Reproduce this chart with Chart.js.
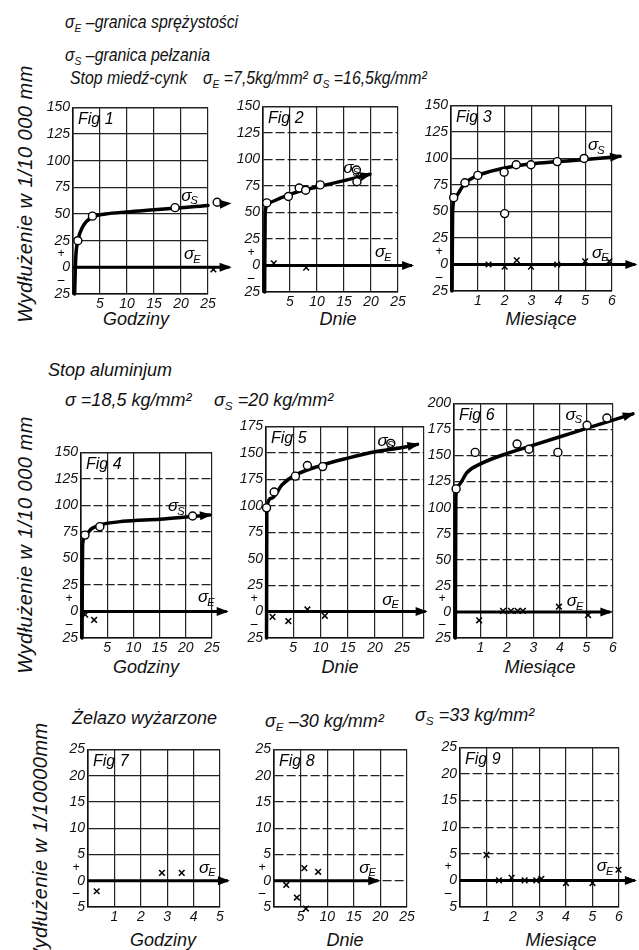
<!DOCTYPE html>
<html>
<head>
<meta charset="utf-8">
<script src="https://cdn.jsdelivr.net/npm/chart.js@4.4.1/dist/chart.umd.min.js"></script>
<style>
body { margin: 0; background: #fff; width: 639px; height: 950px; position: relative; overflow: hidden;
  font-family: 'Liberation Sans', Arial, sans-serif; font-style: italic; color: #111; }
.t { position: absolute; white-space: nowrap; font-size: 18px; line-height: 20px; }
.n { transform: scaleX(0.88); transform-origin: left center; }
.c { position: absolute; white-space: nowrap; font-size: 18px; transform: translate(-50%, -50%); }
.yt { position: absolute; white-space: nowrap; font-size: 20px; letter-spacing: 0.5px; transform: translate(-50%, -50%) rotate(-90deg); }
sub { font-size: 0.65em; vertical-align: -0.35em; line-height: 0; }
canvas { position: absolute; }
</style>
</head>
<body>
<div class="t n" style="left:65px;top:12px">σ<sub>E</sub> –granica sprężystości</div>
<div class="t n" style="left:65px;top:45px">σ<sub>S</sub> –granica pełzania</div>
<div class="t n" style="left:70px;top:68px">Stop miedź-cynk</div>
<div class="t n" style="left:203px;top:68px">σ<sub>E</sub> =7,5kg/mm²</div>
<div class="t n" style="left:313px;top:68px">σ<sub>S</sub> =16,5kg/mm²</div>

<div class="t" style="left:48px;top:360px">Stop aluminjum</div>
<div class="t" style="left:65px;top:390px">σ =18,5 kg/mm²</div>
<div class="t" style="left:214px;top:390px">σ<sub>S</sub> =20 kg/mm²</div>

<div class="t" style="left:72px;top:708px">Żelazo wyżarzone</div>
<div class="t" style="left:265px;top:711px">σ<sub>E</sub> –30 kg/mm²</div>
<div class="t" style="left:415px;top:705px">σ<sub>S</sub> =33 kg/mm²</div>

<div class="yt" style="left:25px;top:194px">Wydłużenie w 1/10 000 mm</div>
<div class="yt" style="left:25px;top:545px">Wydłużenie w 1/10 000 mm</div>
<div class="yt" style="left:40px;top:845px">Wydłużenie w 1/10000mm</div>

<div class="c" style="left:136px;top:319px">Godziny</div>
<div class="c" style="left:338px;top:319px">Dnie</div>
<div class="c" style="left:541px;top:319px">Miesiące</div>
<div class="c" style="left:146px;top:667px">Godziny</div>
<div class="c" style="left:340px;top:667px">Dnie</div>
<div class="c" style="left:540px;top:667px">Miesiące</div>
<div class="c" style="left:163px;top:940px">Godziny</div>
<div class="c" style="left:345px;top:940px">Dnie</div>
<div class="c" style="left:561px;top:940px">Miesiące</div>

<canvas id="f1"></canvas><canvas id="f2"></canvas><canvas id="f3"></canvas>
<canvas id="f4"></canvas><canvas id="f5"></canvas><canvas id="f6"></canvas>
<canvas id="f7"></canvas><canvas id="f8"></canvas><canvas id="f9"></canvas>

<script>
const FONT = "'Liberation Sans', Arial, sans-serif";

// podziałki osi
const yTicksBig = [-25, 0, 25, 50, 75, 100, 125, 150];
const yLabelsBig = ['25', '0', '25', '50', '75', '100', '125', '150'];
const yTicksFig5 = [-25, 0, 25, 50, 75, 100, 125, 150, 175];
const yLabelsFig5 = ['25', '0', '25', '50', '75', '100', '175', '150', '175'];
const yTicksFig6 = [-25, 0, 25, 50, 75, 100, 125, 150, 175, 200];
const yLabelsFig6 = ['25', '0', '25', '50', '75', '100', '125', '150', '175', '200'];
const yTicksSmall = [-5, 0, 5, 10, 15, 20, 25];
const yLabelsSmall = ['5', '0', '5', '10', '15', '20', '25'];
const xTicks25 = [0, 5, 10, 15, 20, 25];
const xLabels25 = ['', '5', '10', '15', '20', '25'];
const xTicksFig5 = [0, 5, 10, 15, 20, 25, 29];
const xLabelsFig5 = ['', '5', '10', '15', '20', '25', ''];
const xTicksMonths = [0, 1, 2, 3, 4, 5, 6];
const xLabelsMonths = ['', '1', '2', '3', '4', '5', '6'];
const xTicksFig7 = [0, 1, 2, 3, 4, 5];
const xLabelsFig7 = ['', '1', '2', '3', '4', '5'];

// Stop miedź-cynk
const fig1Creep = [[0.3, -25], [0.5, 8], [0.9, 25], [1.8, 38], [3.5, 47], [6, 50], [10, 52], [15, 54], [20, 56], [25, 58], [29, 60]];
const fig1Circles = [[0.9, 25], [3.6, 48], [18.9, 56], [26.7, 61]];
const fig1Crosses = [[26, -2]];
const fig1Elastic = [[0, 0], [29, 0]];

const fig2Creep = [[0.3, -25], [0.4, 50], [1, 59], [3, 63], [5, 67], [7.5, 71], [10, 74], [15, 80], [19.8, 86]];
const fig2Circles = [[0.7, 59], [4.7, 65], [6.7, 73], [7.9, 71], [10.6, 76], [17.4, 79], [17.3, 90]];
const fig2Crosses = [[2, 2], [8, -2]];
const fig2Elastic = [[0, 0], [27.6, 0]];

const fig3Creep = [[0.04, -25], [0.06, 50], [0.15, 63], [0.5, 76], [1, 84], [1.5, 88], [2, 91], [3, 95], [4, 97], [5, 99], [6.3, 102]];
const fig3Circles = [[0.1, 63], [0.52, 77], [1.0, 84], [1.98, 87], [2.0, 48], [2.43, 94], [2.98, 94], [3.96, 97], [4.96, 100]];
const fig3Crosses = [[1.4, 0], [2.0, -2], [2.45, 4], [2.98, -2], [3.96, 0], [5.0, 3], [5.9, 3]];
const fig3Elastic = [[0, 0], [6.87, 0]];

// Stop aluminjum
const fig4Creep = [[0.2, -25], [0.3, 62], [0.8, 72], [2, 78], [4, 82], [8, 85], [15, 87], [20, 89], [24.6, 91]];
const fig4Circles = [[0.76, 72], [3.6, 80], [21.3, 90]];
const fig4Crosses = [[0.8, -3], [2.5, -8]];
const fig4Elastic = [[0, 0], [27.8, 0]];

const fig5Creep = [[0.1, -25], [0.15, 98], [1, 107], [3, 120], [5, 128], [10, 138], [15, 145], [20, 151], [25, 155], [27.8, 158]];
const fig5Circles = [[0.1, 98], [1.5, 113], [5.4, 128], [7.6, 138], [10.4, 137], [22.9, 159]];
const fig5Crosses = [[1.2, -5], [4.1, -9], [7.6, 2], [10.8, -4]];
const fig5Elastic = [[0, 0], [29.3, 0]];

const fig6Creep = [[0.05, -25], [0.07, 110], [0.15, 121], [0.5, 134], [1, 142], [2, 152], [3, 160], [4, 168], [5, 176], [6.75, 190]];
const fig6Circles = [[0.08, 118], [0.8, 153], [2.38, 161], [2.83, 156], [3.92, 153], [5.02, 179], [5.77, 186]];
const fig6Crosses = [[0.95, -8], [1.85, 1], [2.15, 1], [2.4, 1], [2.6, 1], [3.96, 5], [5.06, -3]];
const fig6Elastic = [[0, 0], [5.9, 0]];

// Żelazo wyżarzone
const fig7Crosses = [[0.33, -2], [2.8, 1.5], [3.55, 1.5]];
const fig7Elastic = [[0, 0], [5.3, 0]];
const fig8Crosses = [[5.7, 2.4], [8.3, 1.7], [2.3, -0.8], [4.3, -3.2], [6, -5.3]];
const fig8Elastic = [[0, 0], [19.6, 0]];
const fig9Crosses = [[1.0, 4.8], [1.47, 0], [1.95, 0.5], [2.44, 0], [2.88, 0], [3.07, 0.3], [4.0, -0.5], [5.0, -0.5], [5.98, 2]];
const fig9Elastic = [[0, 0], [6.6, 0]];

const figs = [
  { id: 'f1', name: 'Fig 1', L: 73, T: 106, R: 208, B: 294, xT: xTicks25, xL: xLabels25, yT: yTicksBig, yL: yLabelsBig,
    creep: fig1Creep, circles: fig1Circles, crosses: fig1Crosses, elastic: fig1Elastic, sPos: [21, 67], ePos: [21.5, 12], dashed: false, sign: 12.5 },
  { id: 'f2', name: 'Fig 2', L: 263, T: 105, R: 398, B: 292, xT: xTicks25, xL: xLabels25, yT: yTicksBig, yL: yLabelsBig,
    creep: fig2Creep, circles: fig2Circles, crosses: fig2Crosses, elastic: fig2Elastic, sPos: [15.8, 92], ePos: [21.7, 12], dashed: true, sign: 12.5 },
  { id: 'f3', name: 'Fig 3', L: 451, T: 104, R: 612, B: 291, xT: xTicksMonths, xL: xLabelsMonths, yT: yTicksBig, yL: yLabelsBig,
    creep: fig3Creep, circles: fig3Circles, crosses: fig3Crosses, elastic: fig3Elastic, sPos: [5.3, 112], ePos: [5.45, 11], dashed: false, sign: 12.5 },
  { id: 'f4', name: 'Fig 4', L: 81, T: 451, R: 212, B: 638, xT: xTicks25, xL: xLabels25, yT: yTicksBig, yL: yLabelsBig,
    creep: fig4Creep, circles: fig4Circles, crosses: fig4Crosses, elastic: fig4Elastic, sPos: [17.6, 99], ePos: [23.3, 13], dashed: true, sign: 12.5 },
  { id: 'f5', name: 'Fig 5', L: 266, T: 425, R: 424, B: 638, xT: xTicksFig5, xL: xLabelsFig5, yT: yTicksFig5, yL: yLabelsFig5,
    creep: fig5Creep, circles: fig5Circles, crosses: fig5Crosses, elastic: fig5Elastic, sPos: [21.4, 161], ePos: [22.3, 11], dashed: true, sign: 12.5 },
  { id: 'f6', name: 'Fig 6', L: 454, T: 402, R: 613, B: 638, xT: xTicksMonths, xL: xLabelsMonths, yT: yTicksFig6, yL: yLabelsFig6,
    creep: fig6Creep, circles: fig6Circles, crosses: fig6Crosses, elastic: fig6Elastic, sPos: [4.4, 189], ePos: [4.45, 10], dashed: true, sign: 12.5 },
  { id: 'f7', name: 'Fig 7', L: 88, T: 748, R: 220, B: 907, xT: xTicksFig7, xL: xLabelsFig7, yT: yTicksSmall, yL: yLabelsSmall,
    crosses: fig7Crosses, elastic: fig7Elastic, ePos: [4.4, 2.4], dashed: false, sign: 2.5 },
  { id: 'f8', name: 'Fig 8', L: 274, T: 748, R: 407, B: 907, xT: xTicks25, xL: xLabels25, yT: yTicksSmall, yL: yLabelsSmall,
    crosses: fig8Crosses, elastic: fig8Elastic, ePos: [17, 2.4], dashed: true, sign: 2.5 },
  { id: 'f9', name: 'Fig 9', L: 460, T: 746, R: 619, B: 907, xT: xTicksMonths, xL: xLabelsMonths, yT: yTicksSmall, yL: yLabelsSmall,
    crosses: fig9Crosses, elastic: fig9Elastic, ePos: [5.35, 2.6], dashed: true, sign: 2.5 }
];

const PL = 34, PT = 10, PR = 30, PB = 24;

Chart.defaults.font.family = FONT;
Chart.defaults.font.style = 'italic';
Chart.defaults.color = '#111';

function sigma(ctx, x, y, sub) {
  ctx.font = 'italic 17px ' + FONT;
  ctx.textAlign = 'center';
  ctx.textBaseline = 'middle';
  ctx.fillText('σ', x, y);
  const w = ctx.measureText('σ').width;
  ctx.font = 'italic 11px ' + FONT;
  ctx.textAlign = 'left';
  ctx.fillText(sub, x + w / 2 - 1, y + 5);
}

// strzałki, napisy σ, "Fig", znaki +/−
const sketch = {
  id: 'sketch',
  beforeDatasetsDraw(chart) {
    const a = chart.chartArea;
    chart.$area = a;
    chart.chartArea = { left: a.left - 20, top: a.top - 20, right: a.right + 40, bottom: a.bottom + 20,
      width: a.width + 60, height: a.height + 40 };
  },
  afterDatasetsDraw(chart, args, o) {
    chart.chartArea = chart.$area;
    const ctx = chart.ctx, a = chart.chartArea;
    const xs = chart.scales.x, ys = chart.scales.y;
    ctx.save();
    ctx.fillStyle = '#000';
    chart.data.datasets.forEach((ds, i) => {
      if (!ds.arrow) return;
      const el = chart.getDatasetMeta(i).data;
      const p = el[el.length - 1], q = el[el.length - 2];
      let fx = q.x, fy = q.y;
      if (p.cp1x !== undefined && Math.hypot(p.x - p.cp1x, p.y - p.cp1y) > 1) { fx = p.cp1x; fy = p.cp1y; }
      const ang = Math.atan2(p.y - fy, p.x - fx);
      const c = Math.cos(ang), s = Math.sin(ang);
      const tx = p.x + 2 * c, ty = p.y + 2 * s;
      const bx = p.x - 10 * c, by = p.y - 10 * s;
      ctx.beginPath();
      ctx.moveTo(tx, ty);
      ctx.lineTo(bx - 4.5 * s, by + 4.5 * c);
      ctx.lineTo(bx + 4.5 * s, by - 4.5 * c);
      ctx.closePath();
      ctx.fill();
    });
    if (o.sPos) sigma(ctx, xs.getPixelForValue(o.sPos[0]), ys.getPixelForValue(o.sPos[1]), 'S');
    if (o.ePos) sigma(ctx, xs.getPixelForValue(o.ePos[0]), ys.getPixelForValue(o.ePos[1]), 'E');
    ctx.font = 'italic 16px ' + FONT;
    ctx.textAlign = 'left';
    ctx.textBaseline = 'top';
    ctx.fillText(o.name, a.left + 5, a.top + 4);
    ctx.font = 'italic 12px ' + FONT;
    ctx.textAlign = 'center';
    ctx.textBaseline = 'middle';
    ctx.fillText('+', a.left - 12, ys.getPixelForValue(o.sign));
    ctx.fillText('–', a.left - 12, ys.getPixelForValue(-o.sign));
    ctx.restore();
  }
};

function pts(list) {
  return list.map(p => ({ x: p[0], y: p[1] }));
}

function build(f) {
  const cv = document.getElementById(f.id);
  cv.width = f.R - f.L + PL + PR;
  cv.height = f.B - f.T + PT + PB;
  cv.style.left = (f.L - PL) + 'px';
  cv.style.top = (f.T - PT) + 'px';
  const ny = f.yT.length;

  const datasets = [];
  if (f.circles) datasets.push({ data: pts(f.circles), pointStyle: 'circle', pointRadius: 4,
    pointBackgroundColor: '#fff', pointBorderColor: '#000', pointBorderWidth: 1.4, clip: false });
  datasets.push({ data: pts(f.crosses), pointStyle: 'crossRot', pointRadius: 4,
    pointBorderColor: '#000', pointBorderWidth: 1.5, clip: false });
  if (f.creep) datasets.push({ data: pts(f.creep), showLine: true, borderColor: '#000', borderWidth: 3.5,
    pointRadius: 0, cubicInterpolationMode: 'monotone', borderCapStyle: 'round', clip: false, arrow: true });
  datasets.push({ data: pts(f.elastic), showLine: true, borderColor: '#000', borderWidth: 3,
    pointRadius: 0, clip: false, arrow: true });

  new Chart(cv, {
    type: 'scatter',
    data: { datasets },
    options: {
      responsive: false,
      animation: false,
      events: [],
      layout: { padding: { left: 0, top: PT, right: PR, bottom: 0 } },
      plugins: {
        legend: { display: false },
        tooltip: { enabled: false },
        sketch: { name: f.name, sPos: f.sPos, ePos: f.ePos, sign: f.sign }
      },
      scales: {
        x: {
          type: 'linear', min: f.xT[0], max: f.xT[f.xT.length - 1],
          afterBuildTicks: s => { s.ticks = f.xT.map(v => ({ value: v })); },
          afterFit: s => { s.height = PB; },
          ticks: { autoSkip: false, maxRotation: 0, padding: 2, font: { size: 14 }, callback: (v, i) => f.xL[i] },
          grid: { drawTicks: false, color: '#222', lineWidth: 1.2 },
          border: { color: '#111', width: 1.6 }
        },
        y: {
          type: 'linear', min: f.yT[0], max: f.yT[ny - 1],
          afterBuildTicks: s => { s.ticks = f.yT.map(v => ({ value: v })); },
          afterFit: s => { s.width = PL; },
          ticks: { autoSkip: false, padding: 3, font: { size: 14 }, callback: (v, i) => f.yL[i] },
          grid: { drawTicks: false, color: '#222', lineWidth: c => (c.index === ny - 1 ? 1.6 : 1.2) },
          border: { color: '#111', width: 1.6,
            dash: c => (f.dashed && c.index > 0 && c.index < ny - 1 ? [9, 3] : []) }
        }
      }
    },
    plugins: [sketch]
  });
}

figs.forEach(build);
</script>
</body>
</html>
